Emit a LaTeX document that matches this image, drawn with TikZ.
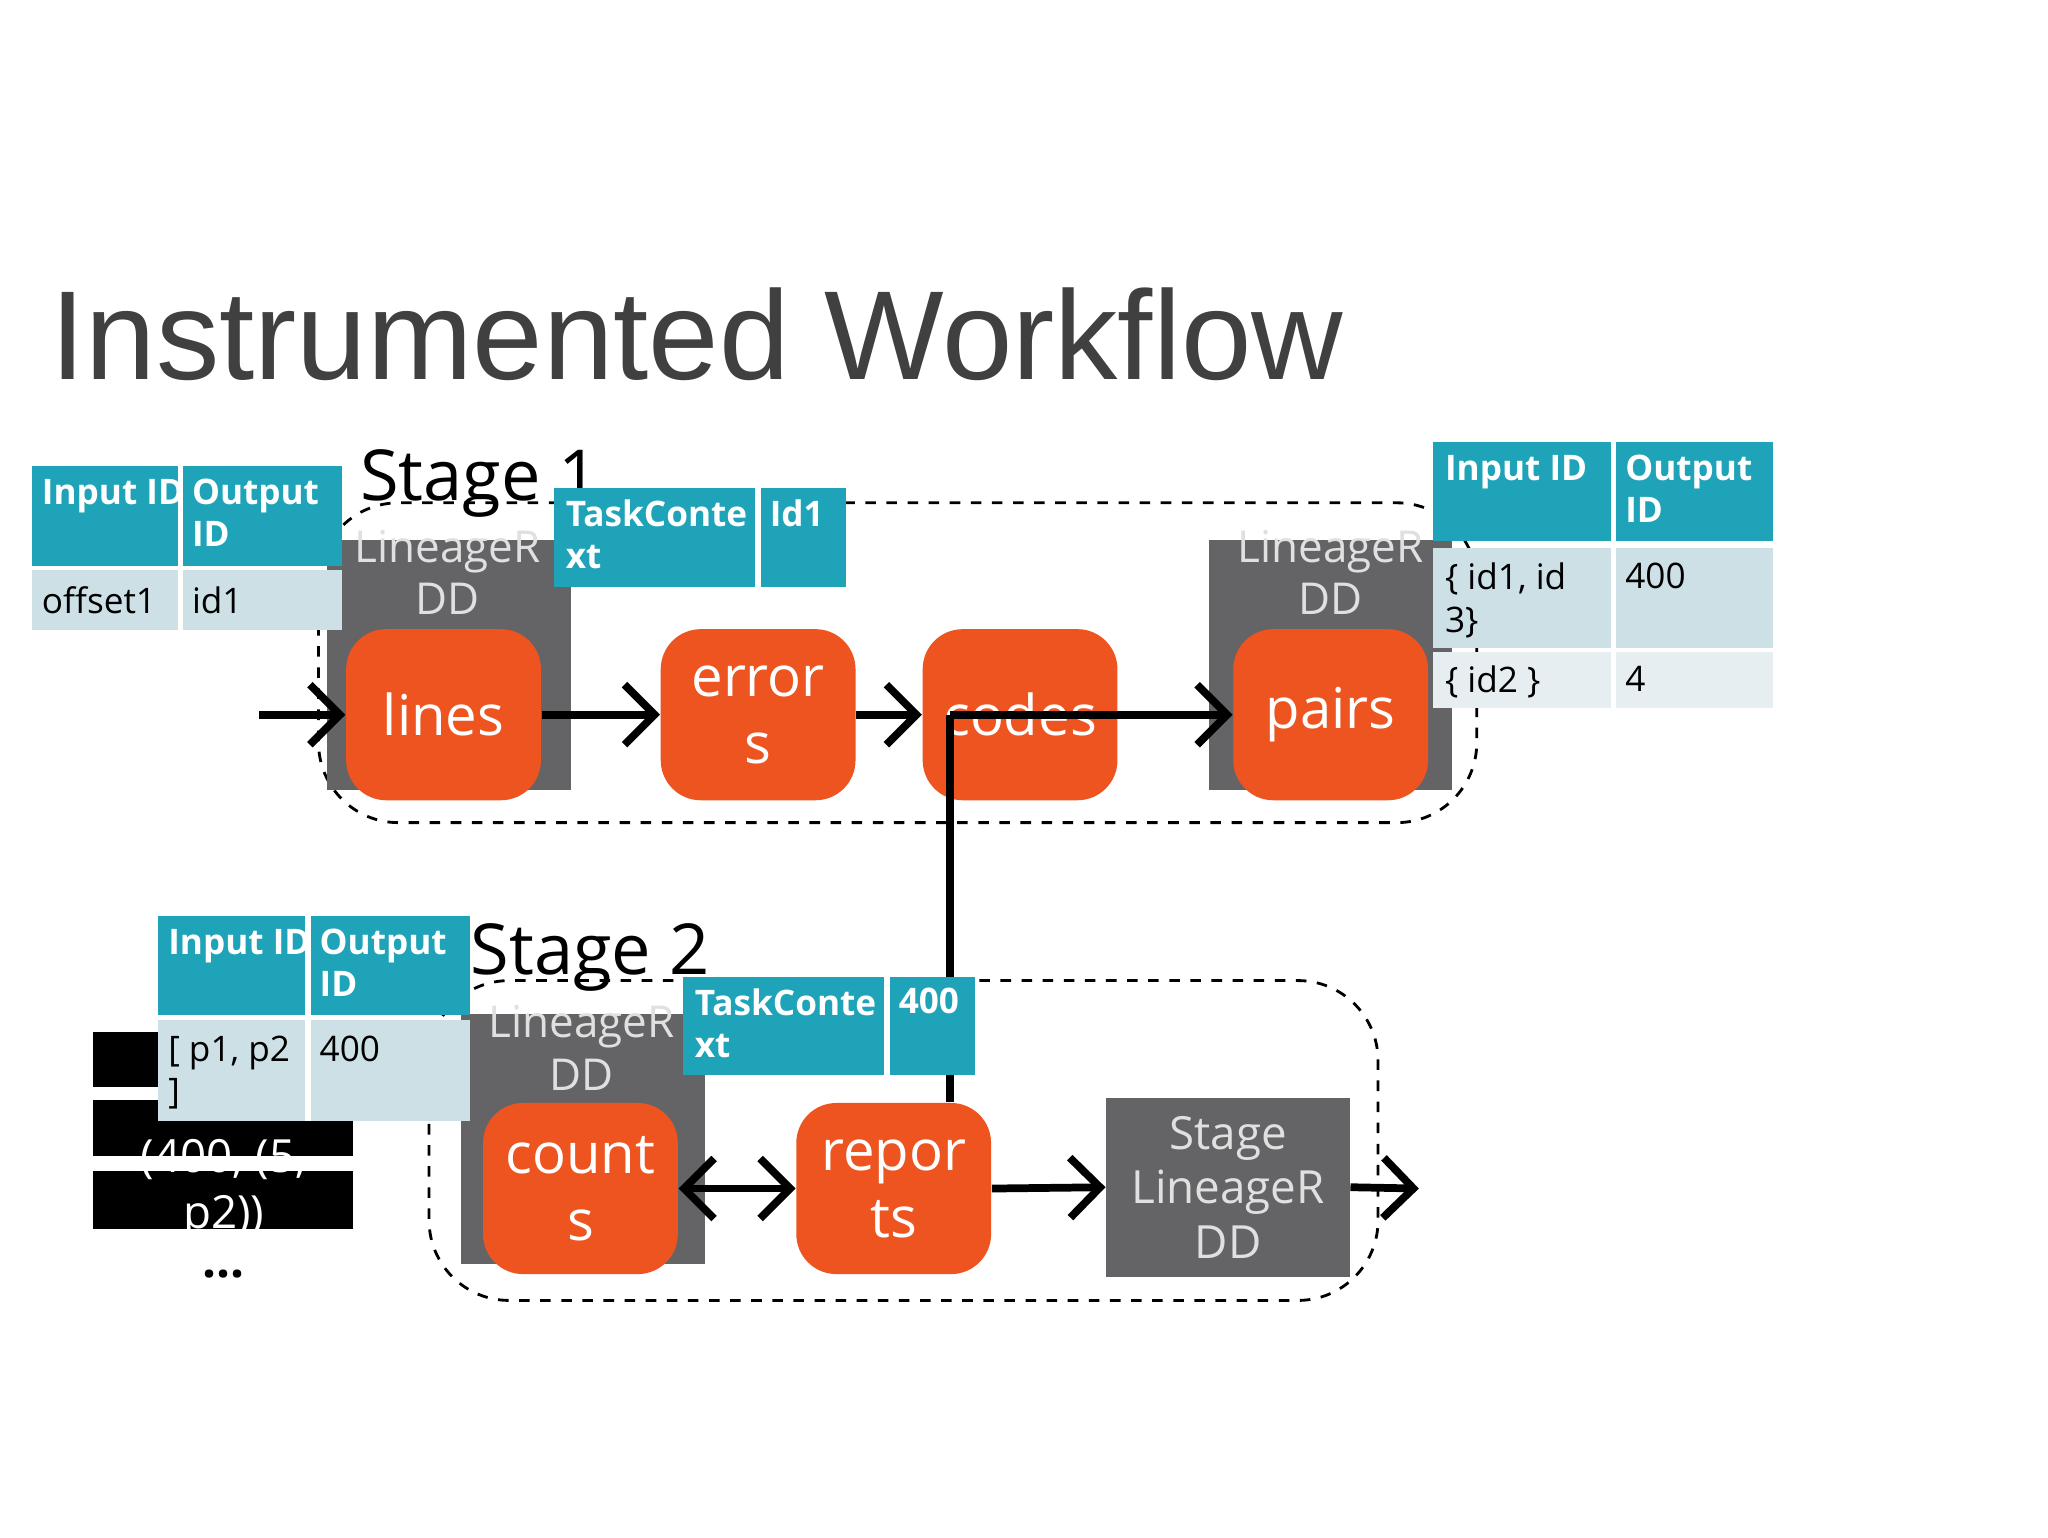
\documentclass[tikz,border=0pt]{standalone}
\usepackage{fontspec}
\setmainfont{Open Sans}
\newfontfamily\titlefont{Liberation Sans}
\usetikzlibrary{arrows.meta}
\definecolor{orng}{HTML}{EE5420}
\definecolor{gry}{HTML}{646365}
\definecolor{teal}{HTML}{1FA3B8}
\definecolor{lt}{HTML}{CDE0E5}
\definecolor{lt2}{HTML}{E6EEF1}
\begin{document}
\begin{tikzpicture}[x=0.01316cm,y=-0.01316cm,
  op/.style={fill=orng,rounded corners=4mm,text=white,font=\fontsize{16}{19}\selectfont,align=center,inner sep=0pt,minimum width={148*0.01316cm},minimum height={130*0.01316cm}},
  rdd/.style={fill=gry,text=white!88!black,font=\fontsize{12.5}{15}\selectfont,align=center,inner sep=0pt,minimum width={185*0.01316cm},minimum height={190*0.01316cm}},
  hd/.style={fill=teal,text=white,font=\fontsize{10}{12}\selectfont\bfseries,align=left,anchor=north west,inner sep=2pt},
  cl/.style={text=black,font=\fontsize{10}{12}\selectfont,align=left,anchor=north west,inner sep=2pt},
  stage/.style={dashed,thick,rounded corners=8mm},
  arr/.style={line width=2.2pt,-{Straight Barb[length=3mm,width=6mm,line width=2.2pt]}},
  lbl/.style={font=\fontsize{20}{24}\selectfont,anchor=base west,inner sep=0pt}]
\useasboundingbox (0,0) rectangle (1556,1168);
\fill[white] (0,0) rectangle (1556,1168);
\node[anchor=base west,inner sep=0pt,text=black!75,font=\titlefont\fontsize{36}{40}\selectfont] (title) at (38,288) {Instrumented Workflow};

% stage 1
\draw[stage] (242,382) rectangle (1122,625);
\node[lbl] (s1) at (273,380) {Stage 1};
\node[rdd,anchor=north west] (r1) at (248,410) {}; \node[text=white!88!black,font=\fontsize{12.5}{15}\selectfont,align=center,anchor=north,inner sep=0pt] (r1t) at (340,402) {LineageR\\DD};
\node[rdd,anchor=north west] (r2) at (918,410) {}; \node[text=white!88!black,font=\fontsize{12.5}{15}\selectfont,align=center,anchor=north,inner sep=0pt] (r2t) at (1011,402) {LineageR\\DD};
\node[op] (lines) at (337,543) {lines};
\node[op] (errors) at (576,543) {error\\s};
\node[op] (codes) at (775,543) {codes};
\node[op] (pairs) at (1011,543) {pairs};
\coordinate (in1) at (197,543);
\draw[arr] (in1) -- (lines.west);
\draw[arr] (lines.east) -- (errors.west);
\draw[arr] (errors.east) -- (codes.west);
\coordinate (j) at (722,543);
\draw[arr] (j) -- (pairs.west);

% tables stage 1
\fill[teal] (24,354) rectangle (260,430); \fill[lt] (24,433) rectangle (260,479);
\draw[white,line width=1.5pt] (137,354) -- (137,479);
\node[hd,fill=none] (a1) at (26,358) {Input ID}; \node[hd,fill=none] (a2) at (140,358) {Output\\ID};
\node[cl] (a3) at (26,440) {offset1}; \node[cl] (a4) at (140,440) {id1};
\fill[teal] (421,371) rectangle (643,446); \draw[white,line width=1.5pt] (576,371) -- (576,446);
\node[hd,fill=none] (t1) at (424,374) {TaskConte\\xt}; \node[hd,fill=none] (t2) at (579,374) {Id1};
\fill[teal] (1089,336) rectangle (1347,411); \fill[lt] (1089,416) rectangle (1347,492); \fill[lt2] (1089,495) rectangle (1347,538);
\draw[white,line width=1.5pt] (1226,336) -- (1226,538);
\node[hd,fill=none] (b1) at (1092,340) {Input ID}; \node[hd,fill=none] (b2) at (1229,340) {Output\\ID};
\node[cl] (b3) at (1092,422) {\{ id1, id\\3\}}; \node[cl] (b4) at (1229,422) {400};
\node[cl] (b5) at (1092,500) {\{ id2 \}}; \node[cl] (b6) at (1229,500) {4};

% stage 2
\draw[stage] (326,745) rectangle (1047,988);
\node[lbl] (s2) at (357,740) {Stage 2};
\node[rdd,anchor=north west] (r3) at (350,770) {}; \node[text=white!88!black,font=\fontsize{12.5}{15}\selectfont,align=center,anchor=north,inner sep=0pt] (r3t) at (442,763) {LineageR\\DD};
\node[op] (counts) at (441,903) {count\\s};
\node[op] (reports) at (679,903) {repor\\ts};
\node[fill=gry,text=white!88!black,font=\fontsize{13}{15.5}\selectfont,align=center,inner sep=0pt,minimum width={185*0.01316cm},minimum height={136*0.01316cm}] (slr) at (933,902) {Stage\\LineageR\\DD};
\draw[line width=2.2pt] (j) -- (reports.north -| j);
\draw[arr,{Straight Barb[length=3mm,width=6mm,line width=2.2pt]}-{Straight Barb[length=3mm,width=6mm,line width=2.2pt]}] (counts.east) -- (reports.west);
\draw[arr] (reports.east) -- (slr.west);
\coordinate (out2) at (1078,903);
\draw[arr] (slr.east) -- (out2);

% black output records
\fill[black] (71,784) rectangle (268,826);
\fill[black] (71,836) rectangle (268,878);
\fill[black] (71,890) rectangle (268,934);
\begin{scope}
\clip (71,784) rectangle (268,934);
\node[text=white,font=\fontsize{13}{16}\selectfont,align=center,anchor=north,inner sep=0pt] (rec) at (170,865) {(400, (5,\\p2))};
\end{scope}
\node[font=\fontsize{14}{16}\selectfont\bfseries,inner sep=0pt] (dots) at (170,968) {...};

% tables stage 2
\fill[teal] (120,696) rectangle (357,771); \fill[lt] (120,775) rectangle (357,852);
\draw[white,line width=1.5pt] (234,696) -- (234,852);
\node[hd,fill=none] (c1) at (122,700) {Input ID}; \node[hd,fill=none] (c2) at (237,700) {Output\\ID};
\node[cl] (c3) at (122,781) {[ p1, p2\\]}; \node[cl] (c4) at (237,781) {400};
\fill[teal] (519,742) rectangle (741,817); \draw[white,line width=1.5pt] (674,742) -- (674,817);
\node[hd,fill=none] (t3) at (522,745) {TaskConte\\xt}; \node[hd,fill=none] (t4) at (677,745) {400};
\end{tikzpicture}
\end{document}
